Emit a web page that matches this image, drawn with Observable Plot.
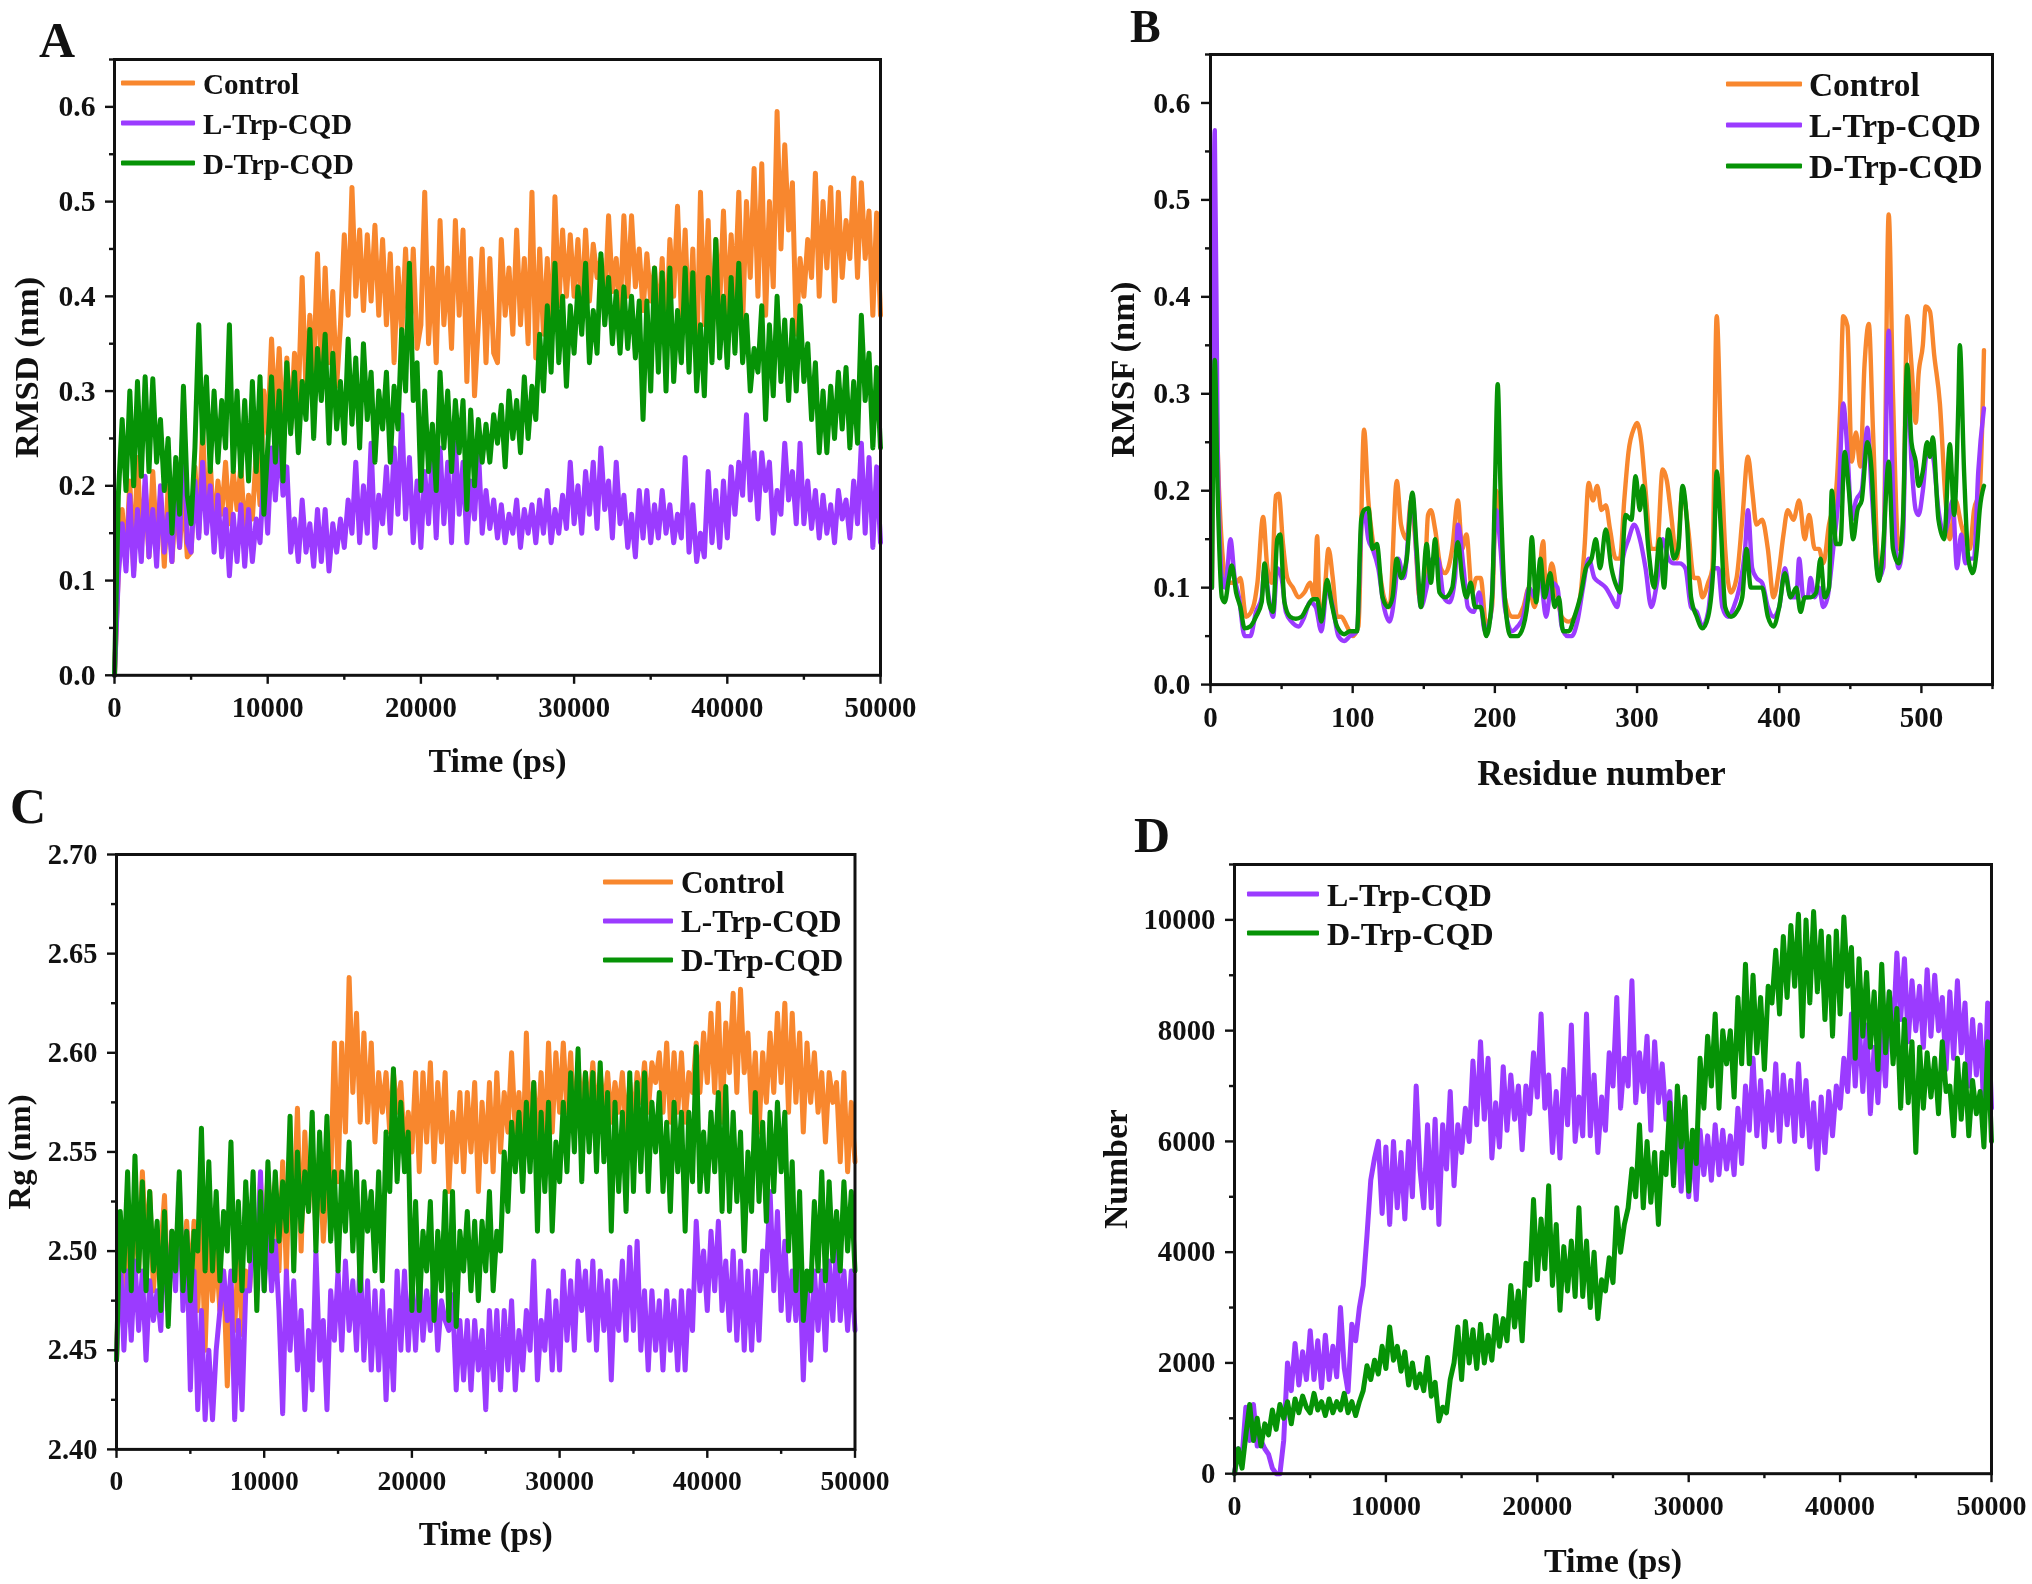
<!DOCTYPE html>
<html>
<head>
<meta charset="utf-8">
<script src="https://cdn.jsdelivr.net/npm/d3@7"></script>
<script src="https://cdn.jsdelivr.net/npm/@observablehq/plot@0.6"></script>
<style>
html,body{margin:0;padding:0;background:#fff;}
#page{position:relative;width:2032px;height:1584px;overflow:hidden;font-family:"Liberation Serif",serif;font-weight:bold;color:#111;filter:blur(0.5px);}
#page svg{position:absolute;background:transparent;overflow:visible;font-family:"Liberation Serif",serif;}
.lab{position:absolute;line-height:1;white-space:nowrap;transform:translateY(-50%);}
.letter{line-height:.72;}
.sw{position:absolute;height:5px;transform:translateY(-50%);border-radius:1px;}
</style>
</head>
<body>
<div id="page"></div>
<script>
const rmsdControl = [
0,110,175,120,205,110,230,135,200,125,215,140,190,115,200,120,185,135,195,125,
130,220,150,262,165,225,150,205,170,225,160,215,175,222,150,190,165,235,180,300,
255,355,270,345,250,335,260,340,290,420,300,380,320,445,310,430,330,405,305,370,
465,380,515,400,470,385,465,395,475,380,460,370,445,330,430,360,450,350,450,345,
370,510,350,430,330,480,370,430,345,480,380,470,310,440,295,370,450,330,440,340,
330,460,380,430,360,470,370,440,350,510,335,450,360,440,345,505,390,470,400,465,
400,460,385,470,395,455,420,440,385,485,405,440,380,485,400,485,410,450,385,445,
395,430,370,440,350,460,400,495,380,470,360,450,325,510,370,480,350,460,390,490,
380,465,400,510,370,500,420,535,400,540,380,500,410,595,450,560,470,520,360,440,
400,460,420,530,400,500,430,515,395,510,420,480,440,525,420,520,440,490,380,488,380];
const rmsdL = [
0,105,160,110,190,105,175,120,210,125,175,115,200,130,170,120,215,135,290,140,
130,205,145,225,150,200,130,190,125,175,105,170,120,180,115,175,120,165,140,215,
150,240,185,250,190,220,130,165,120,185,130,160,115,175,120,175,110,160,130,165,
135,185,150,225,140,200,150,245,135,190,160,220,150,240,170,275,165,230,140,205,
135,215,160,235,145,240,160,225,140,245,170,225,140,205,165,240,150,195,155,185,
145,180,140,170,150,185,135,175,150,180,140,185,150,195,140,175,150,190,155,225,
160,200,150,215,170,225,155,240,175,205,145,225,160,190,135,170,125,195,145,195,
140,180,145,195,150,180,140,170,145,230,130,180,120,150,125,215,140,195,135,205,
145,220,170,225,190,275,185,235,165,235,195,225,150,195,170,245,185,215,160,245,
160,205,155,195,145,190,150,180,140,195,165,185,145,205,160,245,150,230,135,220,140];
const rmsdD = [
0,190,270,195,300,200,310,210,315,215,313,225,270,195,250,150,230,170,305,190,
160,240,370,245,315,215,300,225,290,240,370,215,300,210,290,205,310,215,315,170,
240,315,225,300,205,330,255,320,235,310,270,365,250,345,290,360,245,340,260,310,
245,355,265,335,240,350,270,320,225,300,260,320,225,305,260,365,300,435,290,330,
195,300,215,265,195,320,240,300,215,290,235,290,175,280,200,270,225,265,225,275,
245,285,220,300,250,290,235,315,250,305,270,360,300,390,320,435,330,400,305,390,
340,410,360,435,330,385,340,445,370,420,350,405,340,410,345,400,335,395,270,395,
300,430,320,425,300,430,310,385,330,430,320,425,300,370,295,420,330,460,335,400,
325,420,340,435,330,380,300,345,320,390,270,370,295,400,310,375,290,375,300,390,
310,350,270,330,235,300,235,305,250,320,260,325,240,310,245,380,290,340,240,325,240];

// Panel C: Rg in thousandths of a nm
const rgControl = [
2445,2505,2465,2520,2475,2530,2490,2540,2500,2530,2480,2510,2500,2528,2470,2510,2490,2520,2485,2515,
2480,2515,2470,2515,2450,2510,2475,2500,2470,2490,2432,2480,2460,2500,2458,2490,2480,2510,2490,2535,
2490,2540,2510,2535,2490,2545,2490,2550,2520,2572,2500,2560,2520,2555,2510,2550,2505,2535,2535,2605,
2535,2605,2560,2638,2580,2620,2565,2610,2565,2605,2555,2590,2570,2590,2560,2590,2570,2585,2550,2570,
2550,2590,2540,2590,2555,2595,2545,2585,2555,2590,2530,2570,2545,2580,2540,2580,2550,2585,2530,2575,
2545,2585,2540,2590,2550,2580,2560,2600,2560,2580,2545,2610,2550,2585,2555,2590,2550,2605,2560,2600,
2570,2605,2570,2600,2560,2595,2570,2590,2570,2595,2565,2590,2570,2590,2565,2585,2570,2590,2560,2585,
2565,2590,2575,2595,2570,2595,2585,2600,2570,2605,2565,2600,2570,2600,2565,2590,2580,2605,2580,2610,
2585,2620,2580,2625,2565,2615,2590,2630,2580,2632,2590,2610,2570,2600,2560,2600,2575,2610,2580,2620,
2585,2625,2570,2620,2575,2610,2560,2605,2575,2600,2570,2590,2555,2590,2575,2585,2545,2590,2540,2575,2545];
const rgL = [
2445,2500,2450,2490,2455,2495,2460,2490,2445,2485,2465,2480,2460,2510,2470,2510,2480,2535,2470,2510,
2430,2490,2420,2470,2415,2450,2415,2450,2470,2490,2465,2490,2415,2465,2420,2480,2480,2510,2490,2540,
2480,2515,2480,2505,2470,2418,2490,2450,2485,2440,2470,2420,2460,2430,2500,2445,2465,2420,2480,2455,
2490,2450,2495,2460,2485,2450,2497,2445,2485,2440,2480,2440,2480,2425,2470,2430,2490,2450,2490,2450,
2485,2450,2490,2455,2480,2460,2490,2450,2475,2465,2460,2478,2430,2465,2435,2465,2430,2465,2440,2460,
2420,2470,2435,2470,2430,2470,2440,2475,2430,2460,2440,2470,2450,2495,2435,2465,2450,2480,2440,2475,
2440,2490,2455,2485,2450,2495,2470,2490,2455,2495,2450,2490,2460,2485,2435,2485,2460,2495,2455,2502,
2460,2505,2450,2480,2440,2480,2450,2475,2440,2480,2450,2475,2440,2480,2440,2480,2460,2515,2480,2500,
2470,2510,2480,2515,2470,2495,2460,2500,2455,2495,2450,2490,2450,2490,2455,2500,2490,2530,2480,2520,
2470,2505,2465,2490,2465,2495,2435,2485,2445,2490,2460,2490,2450,2495,2465,2505,2465,2490,2460,2490,2460];
const rgD = [
2445,2520,2490,2540,2480,2548,2490,2535,2480,2530,2490,2515,2470,2520,2462,2510,2490,2540,2480,2510,
2475,2510,2500,2562,2490,2545,2490,2530,2485,2520,2500,2555,2485,2525,2480,2535,2495,2540,2470,2530,
2480,2545,2500,2540,2505,2535,2510,2568,2490,2550,2510,2540,2520,2570,2500,2560,2520,2568,2505,2540,
2490,2540,2510,2555,2500,2540,2480,2535,2510,2530,2490,2540,2485,2560,2530,2592,2535,2575,2540,2560,
2470,2525,2470,2510,2490,2525,2465,2510,2480,2530,2465,2530,2462,2510,2490,2520,2480,2515,2475,2515,
2490,2530,2480,2510,2500,2550,2520,2565,2540,2570,2530,2575,2540,2585,2510,2570,2530,2575,2510,2555,
2535,2575,2540,2590,2550,2602,2535,2590,2550,2590,2540,2595,2545,2580,2510,2575,2530,2570,2520,2590,
2530,2585,2540,2590,2530,2575,2550,2580,2530,2565,2520,2575,2540,2570,2510,2570,2535,2603,2530,2560,
2530,2570,2540,2580,2520,2583,2520,2570,2525,2560,2500,2550,2520,2580,2525,2565,2515,2570,2530,2575,
2540,2570,2500,2545,2480,2530,2465,2490,2480,2525,2490,2540,2485,2535,2495,2520,2490,2535,2500,2530,2490];

// Panel D: number of contacts
const numberL = [
0,450,300,1200,600,1250,500,600,450,350,100,0,0,600,2000,1500,2350,1600,2200,1700,
2580,1700,2400,1550,2500,1700,2300,1750,3000,1900,1480,2700,2400,3000,3400,4300,5300,5700,6000,4700,
5900,4500,6000,4800,5800,4600,6000,5000,7000,5500,4800,6300,4800,6400,4500,6300,5500,6900,5200,6300,
5800,6600,6000,7450,6300,7800,6400,7500,5700,6700,5900,7350,6200,7200,6400,7000,5850,7000,6500,7600,
6800,8300,6600,7200,5800,6900,5700,7300,6300,8100,6000,6800,6100,8300,6100,7200,5800,6800,6200,7600,
7000,8600,6600,7500,7000,8900,6700,7600,6900,7900,6200,7800,6700,7400,6400,6900,5600,6500,5100,6200,
5000,6000,4950,6200,5400,6100,5300,6300,5400,6200,5500,6100,5400,6600,5600,7000,6200,7500,6100,7100,
5900,6900,6200,7400,6000,7200,6300,7100,6000,7400,6100,7100,5900,6700,5500,6800,5800,6900,6100,7000,
6600,7500,6900,8300,7000,8200,6900,8100,6500,7700,6700,8100,7000,8700,7900,9400,8200,9300,7800,8900,
8000,8800,7700,9100,7900,9000,8000,8600,7300,8700,7500,8900,7600,8500,7000,8200,7200,8100,6500,8500,6600];
const numberD = [
0,450,100,700,1250,600,1000,500,900,700,1150,800,1250,1000,1300,900,1350,1100,1400,1200,
1100,1450,1150,1300,1050,1350,1100,1300,1150,1450,1100,1300,1050,1300,1500,1950,1700,2050,1800,2300,
1900,2650,2050,2300,1850,2200,1600,2000,1550,1800,1500,2100,1400,1650,950,1200,1100,1700,2000,2650,
1700,2750,2000,2600,1900,2700,2000,2500,2050,2850,2300,2800,2400,3400,2650,3300,2400,3800,3400,4950,
3500,4600,3700,5200,3400,4500,2950,4100,3300,4200,3200,4800,3200,4200,3000,4000,2800,3500,3300,3900,
3450,4800,4000,4500,4800,5500,5000,6300,4800,6000,4900,5800,4500,5800,5400,6700,5200,7000,5900,6800,
5100,6200,5600,7500,6600,7900,7000,8300,6600,8000,7400,8000,6800,8600,7400,9200,7400,9000,7600,8600,
7300,8800,8500,9450,8300,9700,8600,9900,8800,10100,7900,10000,8500,10150,8700,9800,8200,9700,7900,9800,
8300,10050,8800,9500,7500,9300,7900,9050,7700,8700,7300,9200,7600,8700,7400,8400,6600,8200,6700,7800,
5800,7700,6600,7600,6800,7500,6500,7800,6900,7000,6100,7500,6400,7400,6100,7100,6500,6900,5900,7800,6000];

// Panel B: [residue, RMSF in nm] at the peaks and troughs of each curve
const rmsfControl = [[1,.1],[3,.33],[6,.2],[10,.115],[14,.105],[18,.105],[21,.11],[25,.07],[30,.08],[33,.105],[37,.173],[40,.12],[43,.105],[46,.195],[48,.197],[51,.145],[54,.11],[58,.1],[62,.09],[66,.095],[70,.105],[73,.09],[75,.153],[77,.06],[80,.09],[83,.14],[86,.11],[89,.07],[92,.07],[96,.06],[100,.05],[104,.06],[108,.263],[111,.19],[114,.15],[118,.125],[122,.09],[126,.08],[131,.21],[134,.165],[138,.15],[141,.19],[144,.15],[147,.09],[150,.09],[153,.175],[155,.18],[158,.16],[162,.12],[165,.115],[170,.14],[174,.19],[177,.14],[180,.155],[184,.095],[187,.11],[190,.11],[194,.06],[198,.08],[201,.2],[204,.16],[207,.09],[212,.07],[216,.07],[220,.08],[224,.1],[228,.08],[231,.11],[234,.148],[236,.09],[240,.125],[244,.09],[247,.07],[252,.065],[256,.07],[260,.09],[263,.14],[266,.208],[269,.19],[272,.205],[275,.18],[278,.185],[281,.16],[285,.13],[288,.13],[291,.19],[294,.24],[298,.265],[300,.27],[303,.25],[306,.2],[310,.14],[314,.14],[318,.222],[321,.21],[324,.175],[328,.13],[332,.2],[336,.16],[340,.11],[343,.11],[346,.09],[350,.105],[353,.12],[356,.38],[359,.25],[362,.14],[366,.095],[370,.11],[374,.17],[378,.235],[381,.2],[384,.165],[388,.17],[392,.14],[396,.09],[400,.12],[403,.155],[406,.18],[410,.17],[414,.19],[418,.15],[421,.175],[425,.14],[428,.14],[431,.125],[435,.165],[440,.2],[443,.29],[445,.38],[448,.37],[451,.23],[454,.26],[457,.225],[460,.33],[463,.372],[466,.26],[470,.12],[473,.12],[477,.485],[480,.3],[484,.14],[487,.16],[490,.38],[493,.33],[496,.27],[498,.32],[501,.35],[503,.39],[506,.385],[509,.34],[513,.29],[517,.19],[520,.15],[524,.19],[528,.165],[531,.15],[534,.14],[537,.18],[541,.2],[544,.345]];
const rmsfL = [[1,.1],[3,.572],[5,.25],[8,.11],[10,.1],[12,.12],[14,.15],[17,.11],[20,.09],[24,.05],[28,.05],[32,.075],[36,.09],[38,.12],[41,.09],[44,.07],[47,.12],[50,.11],[53,.075],[57,.065],[62,.06],[66,.07],[70,.085],[74,.08],[78,.055],[82,.1],[86,.08],[90,.05],[94,.045],[98,.05],[103,.055],[106,.16],[108,.18],[111,.15],[114,.14],[118,.12],[122,.08],[126,.065],[130,.1],[132,.13],[136,.11],[142,.195],[145,.13],[148,.08],[152,.1],[156,.13],[160,.13],[164,.09],[168,.085],[172,.11],[174,.165],[178,.12],[181,.08],[185,.075],[189,.095],[193,.055],[197,.07],[201,.18],[204,.14],[207,.08],[212,.055],[216,.06],[220,.07],[224,.1],[228,.09],[232,.11],[236,.07],[240,.105],[244,.1],[247,.06],[251,.05],[254,.05],[258,.065],[262,.1],[266,.13],[270,.11],[274,.105],[278,.1],[282,.09],[286,.08],[290,.13],[294,.15],[298,.165],[302,.15],[306,.12],[310,.08],[314,.105],[318,.15],[322,.13],[326,.125],[330,.125],[334,.12],[338,.08],[342,.075],[346,.06],[350,.075],[354,.12],[357,.12],[360,.08],[364,.07],[368,.08],[372,.1],[376,.14],[378,.18],[381,.12],[384,.11],[388,.105],[392,.08],[396,.07],[400,.08],[404,.12],[408,.09],[412,.09],[414,.13],[417,.09],[420,.09],[422,.11],[425,.09],[428,.1],[431,.08],[434,.09],[438,.14],[442,.2],[445,.29],[448,.24],[451,.17],[454,.19],[458,.2],[462,.265],[465,.2],[470,.11],[473,.12],[477,.365],[480,.2],[484,.12],[487,.15],[490,.32],[493,.23],[496,.18],[498,.175],[501,.2],[504,.24],[508,.235],[512,.18],[516,.155],[519,.17],[522,.19],[525,.12],[528,.155],[531,.125],[534,.13],[537,.13],[540,.22],[544,.285]];
const rmsfD = [[1,.1],[3,.335],[5,.2],[8,.09],[10,.085],[13,.11],[15,.123],[18,.095],[21,.08],[24,.058],[28,.06],[32,.07],[36,.085],[38,.125],[41,.085],[44,.075],[47,.15],[49,.155],[52,.085],[56,.07],[60,.068],[64,.07],[68,.08],[72,.088],[75,.088],[78,.065],[82,.108],[85,.085],[89,.06],[94,.052],[98,.055],[103,.055],[106,.17],[108,.18],[111,.182],[114,.14],[117,.145],[121,.09],[125,.08],[128,.09],[131,.13],[134,.11],[138,.13],[142,.198],[145,.14],[148,.08],[152,.145],[155,.105],[158,.15],[161,.095],[165,.09],[170,.1],[174,.147],[177,.11],[180,.09],[183,.105],[186,.08],[190,.08],[194,.05],[198,.09],[200,.2],[202,.31],[204,.2],[207,.09],[211,.05],[216,.05],[220,.06],[224,.1],[226,.152],[229,.085],[232,.13],[235,.09],[239,.115],[242,.08],[245,.09],[248,.055],[252,.055],[256,.07],[260,.09],[264,.12],[268,.13],[271,.15],[274,.12],[278,.16],[282,.12],[286,.1],[288,.095],[292,.175],[296,.17],[299,.215],[302,.18],[304,.205],[308,.14],[312,.1],[316,.15],[319,.1],[322,.16],[326,.13],[329,.14],[332,.205],[335,.17],[338,.09],[342,.07],[346,.058],[350,.07],[354,.13],[356,.22],[359,.16],[362,.08],[366,.07],[370,.075],[374,.09],[377,.14],[380,.1],[384,.1],[388,.1],[392,.07],[396,.06],[400,.08],[404,.115],[408,.09],[412,.1],[415,.075],[418,.09],[422,.09],[426,.095],[429,.13],[432,.09],[435,.1],[437,.2],[440,.145],[443,.145],[446,.24],[449,.2],[452,.15],[455,.18],[458,.19],[462,.25],[465,.22],[468,.13],[470,.107],[473,.14],[477,.23],[480,.14],[484,.125],[487,.17],[490,.33],[493,.25],[496,.23],[498,.205],[501,.22],[504,.25],[506,.235],[508,.255],[512,.17],[516,.15],[520,.248],[523,.175],[526,.29],[527,.35],[530,.22],[533,.13],[536,.115],[539,.14],[541,.18],[544,.205]];

// Tick lists
const timeMajor = [0,10000,20000,30000,40000,50000];
const timeMinor = [5000,15000,25000,35000,45000];
const resMajor = [0,100,200,300,400,500];
const resMinor = [50,150,250,350,450,550];
const nmMajor = [0,.1,.2,.3,.4,.5,.6];
const nmMinor = [.05,.15,.25,.35,.45,.55,.65];
const rgMajor = [2.4,2.45,2.5,2.55,2.6,2.65,2.7];
const rgMinor = [2.425,2.475,2.525,2.575,2.625,2.675];
const numMajor = [0,2000,4000,6000,8000,10000];
const numMinor = [1000,3000,5000,7000,9000,11000];

const seriesNames = {control:"Control", l:"L-Trp-CQD", d:"D-Trp-CQD"};
const seriesColors = {control:"#F8872E", l:"#9B3BFF", d:"#069306"};

const page = document.getElementById("page");
const timeRows = (vals, scale) => vals.map((v, i) => ({x: i * 50000 / (vals.length - 1), y: v / scale}));
const pairRows = vals => vals.map(([x, y]) => ({x, y}));

function panel(c) {
  const ox = c.left - c.mL, oy = c.top - c.mT;
  const xTick = (ticks, size, text) => Plot.axisX({
    ticks, tickSize: size, tickPadding: c.pad + 2, label: null, tickFormat: text ? d3.format("d") : () => "",
    strokeWidth: 2.4, stroke: "#111", fill: "#111", fontSize: c.tickFont, fontWeight: "bold"
  });
  const yTick = (ticks, size, text) => Plot.axisY({
    ticks, tickSize: size, tickPadding: c.pad, label: null, tickFormat: text ? c.yFormat : () => "",
    strokeWidth: 2.4, stroke: "#111", fill: "#111", fontSize: c.tickFont * 1.03, fontWeight: "bold"
  });
  const svg = Plot.plot({
    width: c.mL + (c.right - c.left) + c.mR,
    height: c.mT + (c.bottom - c.top) + c.mB,
    marginLeft: c.mL, marginRight: c.mR, marginTop: c.mT, marginBottom: c.mB,
    style: {background: "transparent", fontFamily: "Liberation Serif"},
    x: {domain: c.xDomain, label: null},
    y: {domain: c.yDomain, label: null},
    marks: [
      ...c.lines.map(([rows, key]) => Plot.line(rows, {
        x: "x", y: "y", stroke: seriesColors[key], strokeWidth: c.sw, strokeLinejoin: "round", curve: c.curve
      })),
      xTick(c.xMajor, 9, true),
      xTick(c.xMinor, 5, false),
      yTick(c.yMajor, 9, true),
      yTick(c.yMinor, 5, false),
      Plot.frame({stroke: "#111", strokeWidth: 3}),
      Plot.text([c.xLabel], {text: d => d, frameAnchor: "bottom", lineAnchor: "middle", dy: c.xLabelDy, fontSize: c.xLabelFont, fontWeight: "bold", fill: "#111"}),
      Plot.text([c.yLabel], {text: d => d, frameAnchor: "left", textAnchor: "middle", dx: c.yLabelDx, rotate: -90, fontSize: c.yLabelFont, fontWeight: "bold", fill: "#111"})
    ]
  });
  svg.style.left = ox + "px";
  svg.style.top = oy + "px";
  page.appendChild(svg);

  c.legend.forEach(([key, y]) => {
    const s = document.createElement("div");
    s.className = "sw";
    s.style.cssText = `left:${c.swL}px;width:${c.swR - c.swL}px;top:${y}px;background:${seriesColors[key]}`;
    page.appendChild(s);
    const t = document.createElement("div");
    t.className = "lab";
    t.textContent = seriesNames[key];
    t.style.cssText = `left:${c.textL}px;top:${y + 1}px;font-size:${c.legendFont}px`;
    page.appendChild(t);
  });
  const l = document.createElement("div");
  l.className = "lab letter";
  l.textContent = c.letter;
  l.style.cssText = `left:${c.letterX}px;top:${c.letterY}px;font-size:${c.letterFont || 50}px`;
  page.appendChild(l);
}

const nmFmt = d3.format(".1f");
panel({letter:"A",letterX:39,letterY:40,left:113.5,right:879.5,top:58.7,bottom:674.5,mL:110,mR:60,mT:20,mB:110,pad:10,sw:5,curve:"linear",
  xDomain:[0,50000],yDomain:[0,.65],xMajor:timeMajor,xMinor:timeMinor,yMajor:nmMajor,yMinor:nmMinor,yFormat:nmFmt,tickFont:28.8,
  xLabel:"Time (ps)",yLabel:"RMSD (nm)",xLabelDy:85.5,yLabelDx:-88,xLabelFont:34,yLabelFont:34.5,
  lines:[[timeRows(rmsdControl,1000),"control"],[timeRows(rmsdL,1000),"l"],[timeRows(rmsdD,1000),"d"]],
  legend:[["control",82.6],["l",123],["d",163]],swL:121,swR:195,textL:203,legendFont:29});
panel({letter:"B",letterX:1130,letterY:27,letterFont:46,left:1210,right:1992,top:53.6,bottom:683.7,mL:110,mR:35,mT:20,mB:110,pad:11,sw:4.4,curve:"monotone-x",
  xDomain:[0,550],yDomain:[0,.65],xMajor:resMajor,xMinor:resMinor,yMajor:nmMajor,yMinor:nmMinor,yFormat:nmFmt,tickFont:29,
  xLabel:"Residue number",yLabel:"RMSF (nm)",xLabelDy:89,yLabelDx:-88,xLabelFont:35.4,yLabelFont:34.5,
  lines:[[pairRows(rmsfControl),"control"],[pairRows(rmsfL),"l"],[pairRows(rmsfD),"d"]],
  legend:[["control",84],["l",125],["d",166]],swL:1726,swR:1802,textL:1809,legendFont:33.4});
panel({letter:"C",letterX:10,letterY:805.5,left:115.5,right:854,top:854.4,bottom:1449.3,mL:110,mR:60,mT:20,mB:110,pad:10,sw:5,curve:"linear",
  xDomain:[0,50000],yDomain:[2.4,2.7],xMajor:timeMajor,xMinor:timeMinor,yMajor:rgMajor,yMinor:rgMinor,yFormat:d3.format(".2f"),tickFont:27.6,
  xLabel:"Time (ps)",yLabel:"Rg (nm)",xLabelDy:85,yLabelDx:-96.5,xLabelFont:33,yLabelFont:32.6,
  lines:[[timeRows(rgControl,1000),"control"],[timeRows(rgL,1000),"l"],[timeRows(rgD,1000),"d"]],
  legend:[["control",882],["l",921],["d",960]],swL:603,swR:673,textL:681,legendFont:31.2});
panel({letter:"D",letterX:1134,letterY:834.5,left:1234,right:1991,top:863.6,bottom:1472.8,mL:130,mR:41,mT:20,mB:110,pad:10,sw:5,curve:"linear",
  xDomain:[0,50000],yDomain:[0,11000],xMajor:timeMajor,xMinor:timeMinor,yMajor:numMajor,yMinor:numMinor,yFormat:d3.format("d"),tickFont:28,
  xLabel:"Time (ps)",yLabel:"Number",xLabelDy:87,yLabelDx:-118,xLabelFont:34,yLabelFont:33.7,
  lines:[[timeRows(numberL,1),"l"],[timeRows(numberD,1),"d"]],
  legend:[["l",894],["d",932.5]],swL:1247,swR:1319,textL:1327,legendFont:32});
</script>
</body>
</html>
